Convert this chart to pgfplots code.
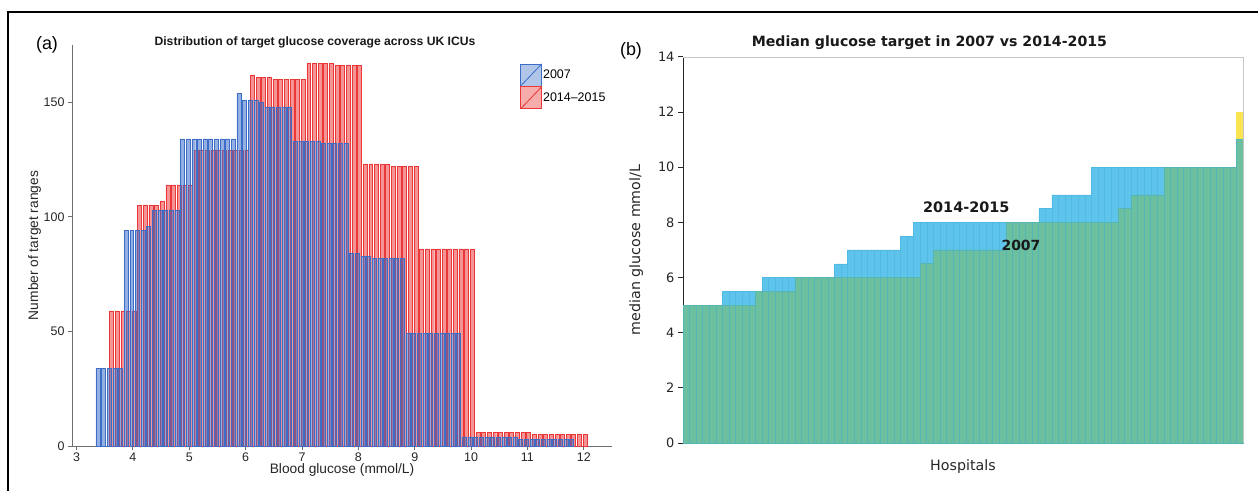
\documentclass[border=0pt]{standalone}
\usepackage{fontspec}
\setmainfont{Liberation Sans}
\newfontfamily\dejavu{DejaVu Sans}
\usepackage{pgfplots}
\pgfplotsset{compat=1.18}
\usepackage{pgfplotstable}

\definecolor{bfill}{RGB}{60,110,200}
\definecolor{bedge}{RGB}{60,110,200}
\definecolor{rfill}{RGB}{240,90,90}
\definecolor{redge}{RGB}{235,55,55}
\definecolor{cyanb}{RGB}{95,196,236}
\definecolor{cyane}{RGB}{80,185,228}
\definecolor{greenb}{RGB}{108,192,160}
\definecolor{greene}{RGB}{85,182,182}
\definecolor{yel}{RGB}{250,228,80}
\definecolor{axgray}{RGB}{110,110,110}

% panel (a): 2007
\pgfplotstableread{
x y
3.4 34
3.5 34
3.6 34
3.7 34
3.8 34
3.9 94
4.0 94
4.1 94
4.2 94
4.3 96
4.4 103
4.5 103
4.6 103
4.7 103
4.8 103
4.9 134
5.0 134
5.1 134
5.2 134
5.3 134
5.4 134
5.5 134
5.6 134
5.7 134
5.8 134
5.9 154
6.0 151
6.1 151
6.2 151
6.3 150
6.4 148
6.5 148
6.6 148
6.7 148
6.8 148
6.9 133
7.0 133
7.1 133
7.2 133
7.3 133
7.4 132
7.5 132
7.6 132
7.7 132
7.8 132
7.9 84
8.0 84
8.1 83
8.2 83
8.3 82
8.4 82
8.5 82
8.6 82
8.7 82
8.8 82
8.9 49
9.0 49
9.1 49
9.2 49
9.3 49
9.4 49
9.5 49
9.6 49
9.7 49
9.8 49
9.9 4
10.0 4
10.1 4
10.2 4
10.3 4
10.4 4
10.5 4
10.6 4
10.7 4
10.8 4
10.9 3
11.0 3
11.1 3
11.2 3
11.3 3
11.4 3
11.5 3
11.6 3
11.7 3
11.8 3
}\blueT

% panel (a): 2014-2015
\pgfplotstableread{
x y
3.6 59
3.7 59
3.8 59
3.9 59
4.0 59
4.1 105
4.2 105
4.3 105
4.4 105
4.5 107
4.6 114
4.7 114
4.8 114
4.9 114
5.0 114
5.1 129
5.2 129
5.3 129
5.4 129
5.5 129
5.6 129
5.7 129
5.8 129
5.9 129
6.0 129
6.1 162
6.2 161
6.3 161
6.4 161
6.5 160
6.6 160
6.7 160
6.8 160
6.9 160
7.0 160
7.1 167
7.2 167
7.3 167
7.4 167
7.5 167
7.6 166
7.7 166
7.8 166
7.9 166
8.0 166
8.1 123
8.2 123
8.3 123
8.4 123
8.5 123
8.6 122
8.7 122
8.8 122
8.9 122
9.0 122
9.1 86
9.2 86
9.3 86
9.4 86
9.5 86
9.6 86
9.7 86
9.8 86
9.9 86
10.0 86
10.1 6
10.2 6
10.3 6
10.4 6
10.5 6
10.6 6
10.7 6
10.8 6
10.9 6
11.0 6
11.1 5
11.2 5
11.3 5
11.4 5
11.5 5
11.6 5
11.7 5
11.8 5
11.9 5
12.0 5
}\redT

% panel (b): 2014-2015 medians
\pgfplotstableread{
i y
1 5
2 5
3 5
4 5
5 5
6 5
7 5.5
8 5.5
9 5.5
10 5.5
11 5.5
12 5.5
13 6
14 6
15 6
16 6
17 6
18 6
19 6
20 6
21 6
22 6
23 6
24 6.5
25 6.5
26 7
27 7
28 7
29 7
30 7
31 7
32 7
33 7
34 7.5
35 7.5
36 8
37 8
38 8
39 8
40 8
41 8
42 8
43 8
44 8
45 8
46 8
47 8
48 8
49 8
50 8
51 8
52 8
53 8
54 8
55 8.5
56 8.5
57 9
58 9
59 9
60 9
61 9
62 9
63 10
64 10
65 10
66 10
67 10
68 10
69 10
70 10
71 10
72 10
73 10
74 10
75 10
76 10
77 10
78 10
79 10
80 10
81 10
82 10
83 10
84 10
}\fourteenT
\pgfplotstableread{
i y
85 12
}\fourteenLast

% panel (b): 2007 medians
\pgfplotstableread{
i y
1 5
2 5
3 5
4 5
5 5
6 5
7 5
8 5
9 5
10 5
11 5
12 5.5
13 5.5
14 5.5
15 5.5
16 5.5
17 5.5
18 6
19 6
20 6
21 6
22 6
23 6
24 6
25 6
26 6
27 6
28 6
29 6
30 6
31 6
32 6
33 6
34 6
35 6
36 6
37 6.5
38 6.5
39 7
40 7
41 7
42 7
43 7
44 7
45 7
46 7
47 7
48 7
49 7
50 8
51 8
52 8
53 8
54 8
55 8
56 8
57 8
58 8
59 8
60 8
61 8
62 8
63 8
64 8
65 8
66 8
67 8.5
68 8.5
69 9
70 9
71 9
72 9
73 9
74 10
75 10
76 10
77 10
78 10
79 10
80 10
81 10
82 10
83 10
84 10
85 11
}\sevenT

\begin{document}
\begin{tikzpicture}
\useasboundingbox (0bp,0bp) rectangle (1258bp,491bp);
\draw[line width=2bp] (8bp,0bp) -- (8bp,479bp) -- (1258bp,479bp);

% ---------------- panel (a)
\begin{axis}[
  at={(72bp,45bp)}, anchor=south west, scale only axis,
  width=540bp, height=401bp,
  xmin=2.92, xmax=12.5, ymin=0, ymax=175,
  axis x line*=bottom, axis y line*=left,
  axis line style={axgray, line width=0.9bp},
  xtick={3,4,...,12}, ytick={0,50,100,150},
  tick style={axgray, line width=0.9bp}, tick align=outside,
  major tick length=4bp,
  /pgf/number format/assume math mode=true,
  tick label style={font=\fontsize{12.5}{14}\selectfont, text=black!85},
  xticklabel style={yshift=1bp},
  xlabel={Blood glucose (mmol/L)},
  ylabel={Number of target ranges},
  label style={font=\fontsize{13.8}{15}\selectfont, text=black!85},
  xlabel style={yshift=5bp},
  ylabel style={yshift=-4bp},
  legend style={at={(axis cs:10.87,167)}, anchor=north west, draw=none, fill=none,
    font=\fontsize{12.5}{14}\selectfont, row sep=0bp, inner sep=0pt,
    nodes={inner sep=1bp}},
  legend cell align=left,
  reverse legend,
  clip=false,
]
\addplot[ybar, bar width=0.07, bar shift=0pt, fill=rfill, fill opacity=0.65,
  draw=redge, line width=0.45bp,
  legend image code/.code={
    \draw[fill=rfill, fill opacity=0.5, draw=redge, line width=0.6bp] (0bp,-11bp) rectangle (21bp,11bp);
    \draw[redge, line width=0.8bp] (0bp,-11bp) -- (21bp,11bp);}]
  table[x expr=\thisrow{x}+0.02, y=y] {\redT};
\addlegendentry{2014–2015}
\addplot[ybar, bar width=0.07, bar shift=0pt, fill=bfill, fill opacity=0.55,
  draw=bedge, line width=0.45bp,
  legend image code/.code={
    \draw[fill=bfill, fill opacity=0.4, draw=bedge, line width=0.6bp] (0bp,-11bp) rectangle (21bp,11bp);
    \draw[bedge, line width=0.8bp] (0bp,-11bp) -- (21bp,11bp);}]
  table[x expr=\thisrow{x}-0.02, y=y] {\blueT};
\addlegendentry{2007}
\node[font=\bfseries\fontsize{12.2}{14}\selectfont, anchor=base, text=black!90]
  at ([yshift=-1bp]rel axis cs:0.45,1) {Distribution of target glucose coverage across UK ICUs};
\end{axis}
\node[font=\fontsize{18}{20}\selectfont] at (47bp,446bp) {(a)};

% ---------------- panel (b)
\begin{axis}[
  at={(683bp,48bp)}, anchor=south west, scale only axis,
  width=560bp, height=386bp,
  xmin=0.5, xmax=85.5, ymin=0, ymax=14,
  axis x line*=bottom, axis y line*=left,
  axis line style={black!85, line width=1bp},
  xtick=\empty, ytick={0,2,...,14},
  tick style={black!85, line width=1bp}, tick align=outside,
  major tick length=5bp,
  /pgf/number format/assume math mode=true,
  tick label style={font=\dejavu\fontsize{13}{15}\selectfont, text=black!85},
  xlabel={Hospitals}, ylabel={median glucose mmol/L},
  label style={font=\dejavu\fontsize{14.3}{16}\selectfont, text=black!85},
  xlabel style={yshift=-8bp},
  ylabel style={yshift=8bp},
  clip=false,
]
\addplot[ybar, bar width=1, bar shift=0pt, fill=cyanb, draw=cyane, line width=0.5bp]
  table[x=i, y=y] {\fourteenT};
\addplot[ybar, bar width=1, bar shift=0pt, fill=yel, draw=yel, line width=0.5bp]
  table[x=i, y=y] {\fourteenLast};
\addplot[ybar, bar width=1, bar shift=0pt, fill=greenb, draw=greene, line width=0.6bp]
  table[x=i, y=y] {\sevenT};
\draw[gray!45, line width=0.8bp] (rel axis cs:0,1) -- (rel axis cs:1,1) -- (rel axis cs:1,0);
\node[font=\dejavu\bfseries\fontsize{14.5}{16}\selectfont, text=black!90] at (axis cs:43.5,8.56) {2014-2015};
\node[font=\dejavu\bfseries\fontsize{14}{16}\selectfont, text=black!90] at (axis cs:51.8,7.18) {2007};
\node[font=\dejavu\bfseries\fontsize{14.2}{16}\selectfont, anchor=base, text=black!90]
  at ([yshift=10bp]rel axis cs:0.44,1) {Median glucose target in 2007 vs 2014-2015};
\end{axis}
\node[font=\fontsize{18}{20}\selectfont] at (631bp,440bp) {(b)};
\end{tikzpicture}
\end{document}
